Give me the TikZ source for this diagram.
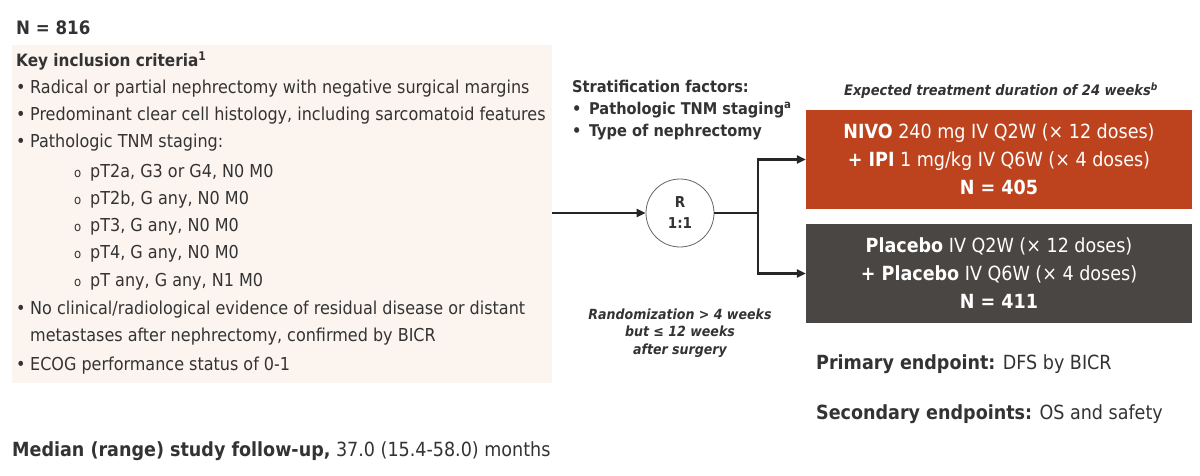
\documentclass[tikz,border=0pt]{standalone}
\usepackage{fontspec}
\setmainfont{DejaVu Sans Condensed}
\usetikzlibrary{arrows.meta}
\definecolor{txtc}{HTML}{333333}
\definecolor{peach}{HTML}{FCF5EF}
\definecolor{nivoc}{HTML}{BD431E}
\definecolor{placc}{HTML}{4A4643}
\begin{document}
\begin{tikzpicture}[x=1pt,y=-1pt,
  lbl/.style={anchor=base west, inner sep=0pt, text=txtc, font=\fontsize{17.8}{20}\selectfont},
  blbl/.style={lbl, font=\fontsize{17}{20}\selectfont\bfseries},
  slbl/.style={lbl, font=\fontsize{16.2}{20}\selectfont\bfseries},
  elbl/.style={lbl, font=\fontsize{19.5}{22}\selectfont},
  subdot/.style={lbl, font=\fontsize{13}{16}\selectfont},
  note/.style={inner sep=0pt, text=txtc, align=center, font=\fontsize{14}{17.5}\selectfont\bfseries\itshape},
  armbox/.style={inner sep=0pt, text=white, align=center, minimum width=386pt, font=\fontsize{19.5}{28}\selectfont},
  conn/.style={line width=2.2pt, draw=black!85},
  tip/.style={-{Triangle[length=9pt,width=8pt]}}]
\useasboundingbox (0,0) rectangle (1200,476);
\fill[white] (0,0) rectangle (1200,476);
% left criteria box
\node[fill=peach, minimum width=540pt, minimum height=338pt, anchor=north west, inner sep=0pt] (crit) at (12,45) {};
\node[lbl, font=\fontsize{18.5}{22}\selectfont\bfseries] (n816) at (16,35) {N = 816};
\node[blbl] (kic) at (16,66.5) {Key inclusion criteria\textsuperscript{1}};
\node[lbl] (b1d) at (16,93.5) {•};
\node[lbl] (b1) at (30,93.5) {Radical or partial nephrectomy with negative surgical margins};
\node[lbl] (b2d) at (16,120.5) {•};
\node[lbl] (b2) at (30,120.5) {Predominant clear cell histology, including sarcomatoid features};
\node[lbl] (b3d) at (16,147.5) {•};
\node[lbl] (b3) at (30,147.5) {Pathologic TNM staging:};
\node[subdot] (s1d) at (74,177.5) {o};
\node[lbl] (s1) at (90,177.5) {pT2a, G3 or G4, N0 M0};
\node[subdot] (s2d) at (74,204.5) {o};
\node[lbl] (s2) at (90,204.5) {pT2b, G any, N0 M0};
\node[subdot] (s3d) at (74,231.5) {o};
\node[lbl] (s3) at (90,231.5) {pT3, G any, N0 M0};
\node[subdot] (s4d) at (74,258.5) {o};
\node[lbl] (s4) at (90,258.5) {pT4, G any, N0 M0};
\node[subdot] (s5d) at (74,286.5) {o};
\node[lbl] (s5) at (90,286.5) {pT any, G any, N1 M0};
\node[lbl] (b4d) at (16,314.5) {•};
\node[lbl] (b4) at (30,314.5) {No clinical/radiological evidence of residual disease or distant};
\node[lbl] (b4b) at (30,341.5) {metastases after nephrectomy, confirmed by BICR};
\node[lbl] (b5d) at (16,370.5) {•};
\node[lbl] (b5) at (30,370.5) {ECOG performance status of 0-1};
% stratification
\node[slbl] (sf) at (572,93) {Stratification factors:};
\node[slbl] (sf1d) at (572,114.5) {•};
\node[slbl] (sf1) at (589,114.5) {Pathologic TNM staging\textsuperscript{a}};
\node[slbl] (sf2d) at (572,136.5) {•};
\node[slbl] (sf2) at (589,136.5) {Type of nephrectomy};
% randomization
\node[circle, draw=black!60, line width=0.8pt, fill=white, minimum size=68pt, inner sep=0pt, align=center, text=txtc, font=\fontsize{15}{21}\selectfont\bfseries] (R) at (680,213) {R\\1:1};
\node[note] (rnote) at (680,333) {Randomization > 4 weeks\\but ≤ 12 weeks\\after surgery};
% arms
\node[note, font=\fontsize{14.5}{17.5}\selectfont\bfseries\itshape] (dur) at (1001,91) {Expected treatment duration of 24 weeks\textsuperscript{b}};
\node[armbox, fill=nivoc, minimum height=99pt] (nivo) at (999,159.5) {\textbf{NIVO} 240 mg IV Q2W (× 12 doses)\\\textbf{+ IPI} 1 mg/kg IV Q6W (× 4 doses)\\\textbf{N = 405}};
\node[armbox, fill=placc, minimum height=99pt] (plac) at (999,273.5) {\textbf{Placebo} IV Q2W (× 12 doses)\\\textbf{+ Placebo} IV Q6W (× 4 doses)\\\textbf{N = 411}};
% connectors
\coordinate (split) at (758,213);
\draw[conn, tip] (crit.east |- R.west) -- (R.west);
\draw[conn] (R.east) -- (split);
\draw[conn, tip] (split) |- (nivo.west);
\draw[conn, tip] (split) |- (plac.west);
% endpoints
\node[elbl] (pe) at (816,369.5) {\textbf{Primary endpoint:} DFS by BICR};
\node[elbl] (se) at (816,419.5) {\textbf{Secondary endpoints:} OS and safety};
\node[elbl] (fu) at (12,456.5) {\textbf{Median (range) study follow-up,} 37.0 (15.4-58.0) months};
\end{tikzpicture}
\end{document}
